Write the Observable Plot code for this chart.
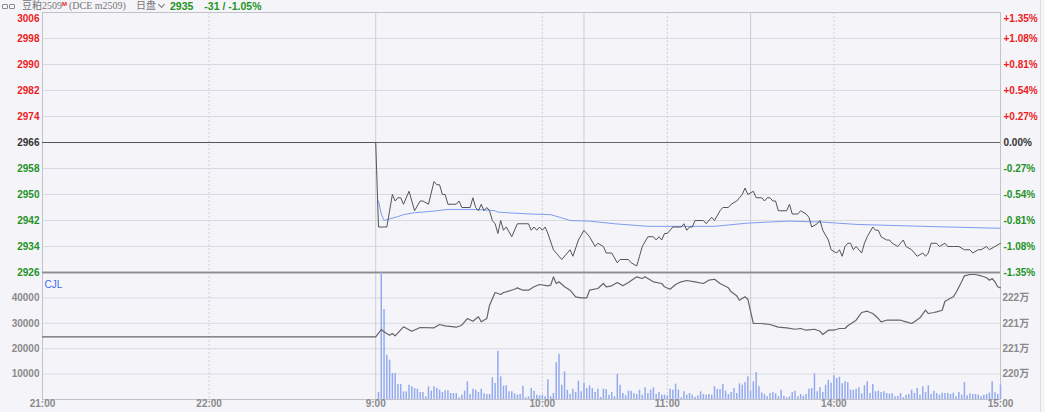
<!DOCTYPE html>
<html>
<head>
<meta charset="utf-8">
<script src="https://cdn.jsdelivr.net/npm/d3@7"></script>
<script src="https://cdn.jsdelivr.net/npm/@observablehq/plot@0.6"></script>
<style>
  html, body { margin: 0; padding: 0; background: #f4f4f9; }
  #wrap { position: relative; width: 1045px; height: 412px; background: #f4f4f9; overflow: hidden; }
  #hdr { position: absolute; left: 0; top: 0; width: 1045px; height: 12px; display: flex; align-items: center; z-index: 5; }
  #hdr > span { display: block; white-space: nowrap; }
  #hdr .nm { font: 10px/12px "Liberation Serif", "Noto Sans CJK SC", serif; color: #777; height: 12px; }
  #hdr .nm b { color: #e22; font: bold 6px/6px "Liberation Sans", sans-serif; vertical-align: 3px; }
  #hdr .px { font: bold 10.5px/12px "Liberation Sans", Arial, sans-serif; color: #239423; height: 12px; }
  #hdr .ic { height: 5px; line-height: 5px; margin-left: 2px; }
  #hdr .ic i { display: inline-block; width: 4px; height: 3px; border: 1px solid #8a8a8a; border-radius: 1px; margin-right: 1px; vertical-align: top; }
  #hdr .chev { width: 4px; height: 4px; border-right: 1px solid #777; border-bottom: 1px solid #777; transform: rotate(45deg); margin-top: -3px; }
  .layer { position: absolute; left: 0; }
  #edge { position: absolute; left: 1040px; top: 0; width: 1px; height: 412px; background: #dcdce2; }
</style>
</head>
<body>
<div id="wrap">
  <div id="hdr"></div>
  <div id="edge"></div>
</div>
<script>
// ---------- data ----------
const symbolName = "豆粕2509";
const marketFlag = "M";
const exchange = "DCE";
const contract = "m2509";
const sessionLabel = "日盘";
const prevClose = 2966;

const priceTicks = [2926, 2934, 2942, 2950, 2958, 2966, 2974, 2982, 2990, 2998, 3006];
const volTicks = [10000, 20000, 30000, 40000];
const volMax = 50000;
const oiDomain = [2196000, 2226000];
const oiTicks = [2202000, 2208000, 2214000, 2220000];
const timeTicks = ["21:00", "22:00", "9:00", "10:00", "11:00", "14:00", "15:00"];
const sessionLines = ["9:00", "10:30", "13:30"];
const hourLines = ["22:00", "10:00", "11:00", "14:00"];

const priceTimes = ["21:00","09:00","09:01","09:04","09:06","09:07","09:08","09:09","09:10","09:12","09:13","09:14","09:16","09:17","09:19","09:21","09:22","09:23","09:24","09:25","09:26","09:29","09:30","09:31","09:34","09:35","09:36","09:37","09:38","09:39","09:40","09:41","09:42","09:43","09:44","09:45","09:46","09:47","09:49","09:51","09:55","09:56","09:57","09:58","09:59","10:00","10:01","10:02","10:04","10:07","10:10","10:11","10:13","10:30","10:31","10:32","10:34","10:35","10:37","10:38","10:40","10:42","10:43","10:46","10:47","10:49","10:50","10:51","10:53","10:55","10:56","10:57","10:58","10:59","11:00","11:02","11:05","11:06","11:07","11:08","11:09","11:10","11:13","11:14","11:16","11:17","11:19","11:20","11:22","11:23","11:25","11:26","11:27","11:28","11:29","13:31","13:32","13:34","13:35","13:36","13:37","13:38","13:39","13:40","13:43","13:44","13:45","13:47","13:48","13:50","13:51","13:52","13:54","13:55","13:56","13:58","13:59","14:01","14:02","14:03","14:04","14:05","14:06","14:07","14:08","14:10","14:11","14:12","14:14","14:15","14:16","14:17","14:19","14:20","14:21","14:23","14:24","14:25","14:26","14:28","14:29","14:30","14:32","14:33","14:34","14:35","14:37","14:38","14:40","14:41","14:43","14:45","14:47","14:49","14:50","14:52","14:53","14:55","14:56","14:58","15:00"];
const prices = [2966,2966,2940,2940,2950,2948,2949,2949,2947,2951,2948,2945,2948,2948,2947,2954,2953,2953,2950,2950,2947,2947,2948,2946,2946,2949,2946,2945,2947,2945,2946,2945,2942,2941,2938,2942,2939,2940,2937,2941,2941,2939,2940,2939,2940,2939,2940,2938,2933,2930,2933,2931,2936,2939,2938,2937,2934,2935,2934,2932,2932,2929,2930,2930,2929,2928,2931,2934,2937,2937,2936,2937,2936,2938,2938,2940,2940,2941,2939,2940,2940,2942,2942,2941,2943,2942,2945,2946,2946,2947,2948,2949,2950,2952,2950,2951,2949,2949,2948,2949,2949,2948,2948,2945,2945,2947,2944,2944,2945,2944,2943,2940,2941,2942,2939,2936,2933,2932,2933,2931,2934,2935,2935,2933,2934,2932,2935,2937,2940,2939,2939,2937,2936,2936,2935,2934,2935,2936,2934,2933,2932,2931,2932,2931,2932,2935,2935,2934,2935,2934,2934,2934,2933,2933,2932,2933,2933,2934,2933,2934,2935];

const avgTimes = ["09:01","09:02","09:03","09:05","09:08","09:10","09:14","09:17","09:22","09:26","09:34","09:39","09:43","09:44","09:49","09:56","10:03","10:07","10:10","10:32","10:41","10:53","11:05","11:17","11:29","13:41","13:44","13:56","14:08","14:20","14:32","15:00"];
const avgPrices = [2948,2944,2942,2942.5,2943.2,2943.8,2944.4,2944.6,2945,2945.4,2945.4,2945.3,2945,2944.6,2944.3,2944,2943.8,2942.8,2942,2941.8,2941,2940.2,2940.2,2940.2,2941.2,2941.7,2941.8,2941.5,2940.8,2940.5,2940.2,2939.6];

const volStart = "09:01";
const volumes = [2760,50000,35430,17450,15490,10240,10240,5910,5910,3020,
 3020,5640,4990,4330,4070,2760,2760,1050,4990,3280,
 4990,4330,3670,2760,3410,3410,2360,2360,2360,660,
 1710,3280,6960,1970,4070,3670,2760,4070,2230,1970,
 1970,8530,6300,19030,8920,5250,5380,3020,3020,2230,
 1710,1970,5250,660,1050,4330,3280,1710,1440,1710,
 1050,7740,1050,2360,14440,17850,5640,10890,3670,1970,
 4070,2760,7220,3020,6300,4330,5380,4330,2760,4070,
 790,4070,3810,1710,2760,1050,9840,5640,2360,1440,
 3280,3280,2230,1970,3670,1710,4590,2360,3670,4590,
 1970,2760,1710,1710,1440,4070,3670,6040,3670,660,
 3020,1710,2360,1710,920,1440,3020,1970,1710,1970,
 1710,4990,3940,3940,5910,3280,1970,2760,4330,2360,
 6170,5640,6690,8920,3280,6960,10630,4990,2620,1970,
 1050,2360,2760,2230,1050,3670,1310,660,1050,2760,
 3280,1050,1970,1310,1970,4070,4330,10100,3020,4590,
 2760,5640,7480,6430,9320,8270,8790,6170,6960,6560,
 3670,3670,4070,4590,2230,5380,6960,2360,5910,3020,
 3280,2760,3020,2360,2100,2360,1050,1310,2360,660,
 1710,1970,3670,2360,4330,1710,4990,2760,5380,1970,
 3280,2360,1710,2490,2360,2360,1970,2490,1050,2760,
 1710,6690,1440,2230,1970,1970,1710,1050,1710,1970,
 2490,6960,2620,1970,5640];

const oiTimes = ["21:00","09:00","09:02","09:03","09:05","09:06","09:07","09:10","09:13","09:16","09:21","09:23","09:25","09:29","09:31","09:33","09:35","09:37","09:38","09:40","09:41","09:43","09:45","09:46","09:47","09:50","09:51","09:53","09:55","09:57","09:59","10:02","10:03","10:04","10:05","10:06","10:08","10:10","10:12","10:14","10:31","10:32","10:35","10:37","10:38","10:40","10:42","10:44","10:46","10:49","10:51","10:52","10:53","10:55","10:58","10:59","11:01","11:03","11:05","11:07","11:10","11:13","11:15","11:17","11:19","11:22","11:23","11:25","11:26","11:28","11:29","13:31","13:34","13:37","13:40","13:43","13:46","13:48","13:50","13:53","13:55","13:56","13:58","14:00","14:02","14:04","14:05","14:08","14:10","14:12","14:14","14:16","14:17","14:19","14:22","14:24","14:26","14:28","14:29","14:31","14:33","14:34","14:36","14:37","14:39","14:40","14:43","14:44","14:46","14:47","14:49","14:51","14:53","14:55","14:56","14:57","14:58","14:59","15:00"];
const openInterest = [2210800,2210800,2212530,2211990,2211190,2211590,2211050,2213170,2212130,2213010,2212940,2213720,2213410,2213080,2213550,2215130,2214490,2215530,2214350,2215130,2218270,2221270,2220800,2221270,2221440,2222050,2222380,2221820,2221820,2222620,2223160,2222860,2223000,2224980,2223400,2223800,2222620,2221820,2220260,2220020,2220020,2221820,2222220,2223400,2222620,2222860,2223640,2222860,2223640,2224980,2224580,2224980,2224580,2223800,2223400,2222620,2222050,2223160,2223800,2224110,2223800,2223400,2224180,2224410,2223400,2222380,2221440,2220490,2219450,2220260,2219690,2213950,2213950,2213720,2213080,2212940,2212600,2212770,2212370,2212600,2212130,2211350,2212370,2212370,2212770,2212770,2213410,2214730,2216550,2216860,2216310,2215130,2214350,2214730,2214730,2214730,2214350,2213950,2214350,2215300,2217090,2216310,2216550,2216710,2217090,2219220,2220260,2221270,2223800,2225220,2225530,2225530,2225220,2224750,2224180,2224580,2223800,2222620,2222380];

// ---------- helpers ----------
// trading-minute index: night 21:00-23:00 -> 0..120, day 9:00-10:15, 10:30-11:30, 13:30-15:00 -> 120..345
function idx(t) {
  const [h, m] = t.split(":").map(Number);
  if (h >= 21) return (h - 21) * 60 + m;
  const mins = h * 60 + m;
  if (mins <= 615) return 120 + mins - 540;
  if (mins <= 690) return 195 + mins - 630;
  return 255 + mins - 810;
}
const RED = "#ee1c1c", GREEN = "#1f931f", DARK = "#333", GRAY = "#8a8a8a";
const pct = v => { const p = (v - prevClose) / prevClose * 100; return (p > 0 ? "+" : "") + p.toFixed(2) + "%"; };
const W = 1045, ML = 42, MR = 45;
const X = {domain: [0, 345], axis: null};
const baseStyle = {background: "transparent", overflow: "visible", fontFamily: "'Liberation Sans', Arial, 'Noto Sans CJK SC', sans-serif", fontSize: "10px"};

const priceData = priceTimes.map((t, i) => ({i: idx(t), v: prices[i]}));
const avgData = avgTimes.map((t, i) => ({i: idx(t), v: avgPrices[i]}));
const oiData = oiTimes.map((t, i) => ({i: idx(t), v: openInterest[i]}));
const vStart = idx(volStart);

const pTop = priceTicks[priceTicks.length - 1], pBot = priceTicks[0];
const redT = priceTicks.filter(v => v > prevClose && v !== pTop);
const greenT = priceTicks.filter(v => v < prevClose);
const innerT = priceTicks.filter(v => v !== prevClose && v !== pTop && v !== pBot);

// ---------- header ----------
const last = prices[prices.length - 1];
const chg = last - prevClose;
document.getElementById("hdr").innerHTML =
  `<span class="ic"><i></i><i></i></span>` +
  `<span class="nm" style="margin-left:6px">${symbolName}<b>${marketFlag}</b></span>` +
  `<span class="nm" style="margin-left:2px">(${exchange} ${contract})</span>` +
  `<span class="nm" style="margin-left:10px">${sessionLabel}</span>` +
  `<span class="chev" style="margin-left:3px"></span>` +
  `<span class="px" style="margin-left:6px">${last}</span>` +
  `<span class="px" style="margin-left:11px">${chg} / ${pct(last)}</span>`;

// ---------- upper panel: price ----------
const upper = Plot.plot({
  width: W, height: 280, marginTop: 12, marginBottom: 8, marginLeft: ML, marginRight: MR,
  x: X, y: {domain: [pBot, pTop], axis: null},
  style: baseStyle,
  marks: [
    Plot.ruleY(innerT, {stroke: "#d9d9e1"}),
    Plot.ruleX(sessionLines, {x: idx, stroke: "#cdcdd5"}),
    Plot.ruleX(hourLines, {x: idx, stroke: "#cfcfd7", strokeDasharray: "2,2"}),
    Plot.frame({stroke: "#c2c2ca"}),
    Plot.ruleY([prevClose], {stroke: "#666"}),
    Plot.ruleY([pBot], {stroke: "#8c8c8c", strokeWidth: 1.5}),
    Plot.line(avgData, {x: "i", y: "v", stroke: "#7f9cf0", strokeWidth: 1}),
    Plot.line(priceData, {x: "i", y: "v", stroke: "#555", strokeWidth: 1}),
    // left labels
    Plot.text(redT, {y: d => d, text: d => String(d), frameAnchor: "left", textAnchor: "end", dx: -3, fill: RED, fontWeight: "bold"}),
    Plot.text([pTop], {y: d => d, text: d => String(d), frameAnchor: "left", textAnchor: "end", dx: -3, dy: 6, fill: RED, fontWeight: "bold"}),
    Plot.text([prevClose], {y: d => d, text: d => String(d), frameAnchor: "left", textAnchor: "end", dx: -3, fill: DARK, fontWeight: "bold"}),
    Plot.text(greenT, {y: d => d, text: d => String(d), frameAnchor: "left", textAnchor: "end", dx: -3, fill: GREEN, fontWeight: "bold"}),
    // right labels
    Plot.text(redT, {y: d => d, text: pct, frameAnchor: "right", textAnchor: "start", dx: 3, fill: RED, fontWeight: "bold"}),
    Plot.text([pTop], {y: d => d, text: pct, frameAnchor: "right", textAnchor: "start", dx: 3, dy: 6, fill: RED, fontWeight: "bold"}),
    Plot.text([prevClose], {y: d => d, text: pct, frameAnchor: "right", textAnchor: "start", dx: 3, fill: DARK, fontWeight: "bold"}),
    Plot.text(greenT, {y: d => d, text: pct, frameAnchor: "right", textAnchor: "start", dx: 3, fill: GREEN, fontWeight: "bold"})
  ]
});

// ---------- lower panel: volume ----------
const lower = Plot.plot({
  width: W, height: 148, marginTop: 8, marginBottom: 13, marginLeft: ML, marginRight: MR,
  x: X, y: {domain: [0, volMax], axis: null},
  style: baseStyle,
  marks: [
    Plot.ruleY(volTicks, {stroke: "#d9d9e1"}),
    Plot.ruleX(sessionLines, {x: idx, stroke: "#cdcdd5"}),
    Plot.ruleX(hourLines, {x: idx, stroke: "#cfcfd7", strokeDasharray: "2,2"}),
    Plot.frame({stroke: "#c2c2ca"}),
    Plot.ruleY([volMax], {stroke: "#8c8c8c", strokeWidth: 1.5}),
    Plot.ruleX(volumes, {x: (d, i) => vStart + i, y1: 0, y2: d => d, stroke: "#93aaee", strokeWidth: 1.5}),
    Plot.text(volTicks, {y: d => d, text: d => String(d), frameAnchor: "left", textAnchor: "end", dx: -3, fill: GRAY, fontWeight: "bold"}),
    Plot.text(["CJL"], {text: d => d, frameAnchor: "top-left", textAnchor: "start", dx: 2, dy: 8, fill: "#3d68e6"}),
    Plot.text(timeTicks, {x: idx, text: d => d, frameAnchor: "bottom", dy: 7, fill: GRAY, fontWeight: "bold"})
  ]
});

// ---------- lower panel overlay: open interest ----------
const oiPlot = Plot.plot({
  width: W, height: 148, marginTop: 8, marginBottom: 13, marginLeft: ML, marginRight: MR,
  x: X, y: {domain: oiDomain, axis: null},
  style: baseStyle,
  marks: [
    Plot.line(oiData, {x: "i", y: "v", stroke: "#666", strokeWidth: 1.2}),
    Plot.text(oiTicks, {y: d => d, text: d => Math.round(d / 1e4) + "万", frameAnchor: "right", textAnchor: "start", dx: 2, fill: GRAY, fontWeight: "bold"})
  ]
});

const wrap = document.getElementById("wrap");
[[upper, 0], [lower, 264], [oiPlot, 264]].forEach(([el, top]) => {
  el.classList.add("layer");
  el.style.top = top + "px";
  wrap.appendChild(el);
});
</script>
</body>
</html>
